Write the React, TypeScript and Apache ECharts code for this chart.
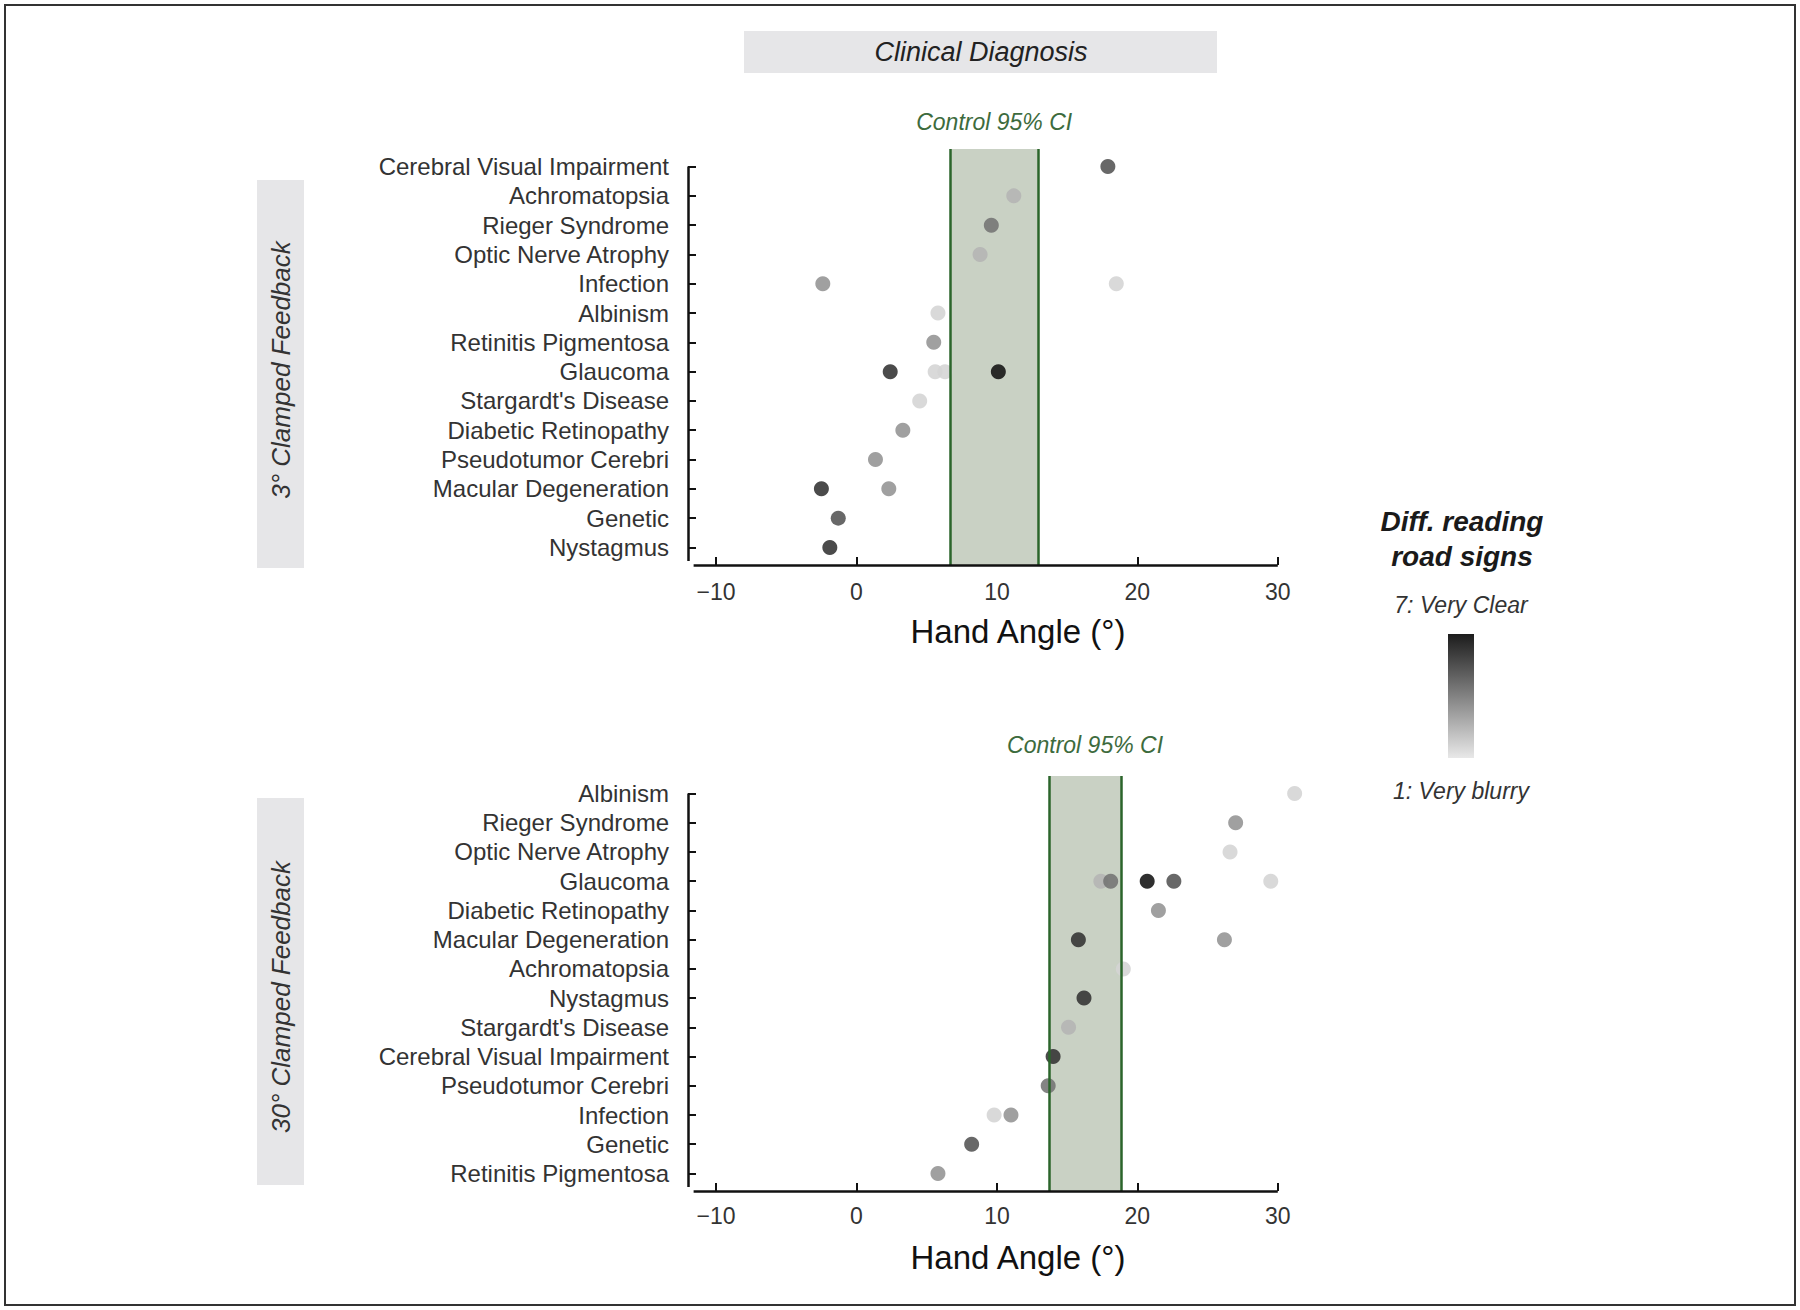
import React, { useEffect, useRef } from 'react';
import * as echarts from 'echarts';

// Categories, listed top to bottom as they appear in each panel
const topCategories = [
  'Cerebral Visual Impairment', 'Achromatopsia', 'Rieger Syndrome', 'Optic Nerve Atrophy',
  'Infection', 'Albinism', 'Retinitis Pigmentosa', 'Glaucoma', "Stargardt's Disease",
  'Diabetic Retinopathy', 'Pseudotumor Cerebri', 'Macular Degeneration', 'Genetic', 'Nystagmus',
];
const bottomCategories = [
  'Albinism', 'Rieger Syndrome', 'Optic Nerve Atrophy', 'Glaucoma', 'Diabetic Retinopathy',
  'Macular Degeneration', 'Achromatopsia', 'Nystagmus', "Stargardt's Disease",
  'Cerebral Visual Impairment', 'Pseudotumor Cerebri', 'Infection', 'Genetic', 'Retinitis Pigmentosa',
];

// [category, hand angle (deg), difficulty reading road signs rating 1-7]
const topPoints: [string, number, number][] = [
  ['Cerebral Visual Impairment', 17.9, 5],
  ['Achromatopsia', 11.2, 2],
  ['Rieger Syndrome', 9.6, 4],
  ['Optic Nerve Atrophy', 8.8, 2],
  ['Infection', -2.4, 3],
  ['Infection', 18.5, 1],
  ['Albinism', 5.8, 1],
  ['Retinitis Pigmentosa', 5.5, 3],
  ['Glaucoma', 2.4, 6],
  ['Glaucoma', 5.6, 1],
  ['Glaucoma', 6.3, 1],
  ['Glaucoma', 10.1, 7],
  ["Stargardt's Disease", 4.5, 1],
  ['Diabetic Retinopathy', 3.3, 3],
  ['Pseudotumor Cerebri', 1.35, 3],
  ['Macular Degeneration', -2.5, 6],
  ['Macular Degeneration', 2.3, 3],
  ['Genetic', -1.3, 5],
  ['Nystagmus', -1.9, 6],
];
const bottomPoints: [string, number, number][] = [
  ['Albinism', 31.2, 1],
  ['Rieger Syndrome', 27.0, 3],
  ['Optic Nerve Atrophy', 26.6, 1],
  ['Glaucoma', 17.4, 2],
  ['Glaucoma', 18.1, 4],
  ['Glaucoma', 20.7, 7],
  ['Glaucoma', 22.6, 5],
  ['Glaucoma', 29.5, 1],
  ['Diabetic Retinopathy', 21.5, 3],
  ['Macular Degeneration', 15.8, 6],
  ['Macular Degeneration', 26.2, 3],
  ['Achromatopsia', 19.0, 1],
  ['Nystagmus', 16.2, 6],
  ["Stargardt's Disease", 15.1, 2],
  ['Cerebral Visual Impairment', 14.0, 6],
  ['Pseudotumor Cerebri', 13.65, 4],
  ['Infection', 9.8, 1],
  ['Infection', 11.0, 3],
  ['Genetic', 8.2, 5],
  ['Retinitis Pigmentosa', 5.8, 3],
];

const topCI = [6.66, 12.95];
const bottomCI = [13.7, 18.85];
const xTicks = [-10, 0, 10, 20, 30];
const ratingRange = [1, 7];
const panelTitles = ['3° Clamped Feedback', '30° Clamped Feedback'];

const FONT = "'Liberation Sans', Arial, Helvetica, sans-serif";

const X_MIN = -12;
const X_MAX = 35;
const Y_MIN = -0.6;
const Y_MAX = 13.6;

function toData(cats: string[], pts: [string, number, number][]) {
  return pts.map(([c, x, r]) => [x, cats.length - 1 - cats.indexOf(c), r]);
}

function buildAxes(gi: number, cats: string[], labelMargin: number) {
  const idx = cats.map((_, i) => i);
  const xAxis = {
    gridIndex: gi,
    type: 'value',
    position: 'bottom',
    min: X_MIN,
    max: X_MAX,
    axisLine: { show: false, onZero: false },
    splitLine: { show: false },
    axisTick: {
      show: true,
      inside: true,
      length: 8,
      customValues: xTicks,
      lineStyle: { color: '#111', width: 2 },
    },
    axisLabel: {
      customValues: xTicks,
      formatter: (v: number) => (v < 0 ? '\u2212' + Math.abs(v) : String(v)),
      margin: labelMargin,
      fontSize: 23,
      color: '#333',
      fontFamily: FONT,
    },
    name: 'Hand Angle (°)',
    nameLocation: 'middle',
    nameGap: 50,
    nameTextStyle: { fontSize: 33, color: '#111', fontFamily: FONT },
  };
  const yAxis = {
    gridIndex: gi,
    type: 'value',
    position: 'left',
    min: Y_MIN,
    max: Y_MAX,
    axisLine: { show: false, onZero: false },
    splitLine: { show: false },
    axisTick: {
      show: true,
      inside: true,
      length: 8,
      customValues: idx,
      lineStyle: { color: '#111', width: 2 },
    },
    axisLabel: {
      customValues: idx,
      formatter: (v: number) => cats[cats.length - 1 - Math.round(v)] ?? '',
      margin: 19,
      fontSize: 24,
      color: '#333',
      fontFamily: FONT,
    },
  };
  return { xAxis, yAxis };
}

function buildSeries(gi: number, cats: string[], pts: [string, number, number][], ci: number[], labelDist: number) {
  const top = cats.length - 1;
  const axisStyle = { color: '#111', width: 2.5, type: 'solid' };
  const ciStyle = { color: '#2b652b', width: 2.5, type: 'solid' };
  return {
    type: 'scatter',
    xAxisIndex: gi,
    yAxisIndex: gi,
    data: toData(cats, pts),
    symbolSize: 15,
    itemStyle: { opacity: 0.88 },
    markArea: {
      silent: true,
      itemStyle: { color: '#c9d1c4' },
      label: {
        show: true,
        position: 'top',
        distance: labelDist,
        formatter: 'Control 95% CI',
        color: '#3d6b3d',
        fontStyle: 'italic',
        fontSize: 23,
        fontFamily: FONT,
      },
      data: [[{ xAxis: ci[0] }, { xAxis: ci[1] }]],
    },
    markLine: {
      silent: true,
      symbol: 'none',
      label: { show: false },
      data: [
        { xAxis: ci[0], lineStyle: ciStyle },
        { xAxis: ci[1], lineStyle: ciStyle },
        [
          { coord: [-11.6, Y_MIN], lineStyle: axisStyle },
          { coord: [30, Y_MIN] },
        ],
        [
          { coord: [X_MIN, top], lineStyle: axisStyle },
          { coord: [X_MIN, -0.46] },
        ],
      ],
    },
  };
}

export default function App() {
  const ref = useRef<HTMLDivElement>(null);

  useEffect(() => {
    if (!ref.current) return;
    const chart = echarts.init(ref.current, undefined, { renderer: 'svg' });

    const a0 = buildAxes(0, topCategories, 15);
    const a1 = buildAxes(1, bottomCategories, 13);

    const gradient = new echarts.graphic.LinearGradient(0, 0, 0, 1, [
      { offset: 0, color: '#1c1c1c' },
      { offset: 1, color: '#e8e8e8' },
    ]);

    const textEl = (x: number, y: number, text: string, size: number, extra: any = {}) => ({
      type: 'text',
      x,
      y,
      silent: true,
      ...(extra.rotation !== undefined ? { rotation: extra.rotation } : {}),
      style: {
        text,
        align: 'center',
        verticalAlign: 'middle',
        fontSize: size,
        fontStyle: 'italic',
        fontFamily: FONT,
        fill: extra.fill || '#333',
        fontWeight: extra.fontWeight || 'normal',
      },
    });

    const option = {
      animation: false,
      backgroundColor: '#ffffff',
      textStyle: { fontFamily: FONT },
      grid: [
        { left: 688, top: 149, width: 660, height: 416 },
        { left: 688, top: 776, width: 660, height: 415 },
      ],
      xAxis: [a0.xAxis, a1.xAxis],
      yAxis: [a0.yAxis, a1.yAxis],
      visualMap: {
        type: 'continuous',
        show: false,
        min: ratingRange[0],
        max: ratingRange[1],
        dimension: 2,
        seriesIndex: [0, 1],
        inRange: { color: ['#d4d4d4', '#121212'] },
      },
      series: [
        buildSeries(0, topCategories, topPoints, topCI, 16),
        buildSeries(1, bottomCategories, bottomPoints, bottomCI, 20),
      ],
      graphic: [
        {
          type: 'rect',
          shape: { x: 5, y: 5, width: 1790, height: 1300 },
          style: { fill: 'none', stroke: '#333', lineWidth: 2 },
          silent: true,
        },
        {
          type: 'rect',
          shape: { x: 744, y: 31, width: 473, height: 42 },
          style: { fill: '#e6e6e8' },
          silent: true,
        },
        textEl(981, 52, 'Clinical Diagnosis', 27, { fill: '#222' }),
        {
          type: 'rect',
          shape: { x: 257, y: 180, width: 47, height: 388 },
          style: { fill: '#e6e6e8' },
          silent: true,
        },
        textEl(281, 370, panelTitles[0], 26, { rotation: Math.PI / 2 }),
        {
          type: 'rect',
          shape: { x: 257, y: 798, width: 47, height: 387 },
          style: { fill: '#e6e6e8' },
          silent: true,
        },
        textEl(281, 997, panelTitles[1], 26, { rotation: Math.PI / 2 }),
        textEl(1462, 521, 'Diff. reading', 28, { fontWeight: 'bold', fill: '#1a1a1a' }),
        textEl(1462, 556, 'road signs', 28, { fontWeight: 'bold', fill: '#1a1a1a' }),
        textEl(1461, 605, '7: Very Clear', 23),
        {
          type: 'rect',
          shape: { x: 1448, y: 634, width: 26, height: 124 },
          style: { fill: gradient },
          silent: true,
        },
        textEl(1461, 791, '1: Very blurry', 23),
      ],
    };

    chart.setOption(option as any);
    return () => chart.dispose();
  }, []);

  return (
    <div
      ref={ref}
      style={{ position: 'fixed', left: 0, top: 0, width: 1800, height: 1310, background: '#fff' }}
    />
  );
}
